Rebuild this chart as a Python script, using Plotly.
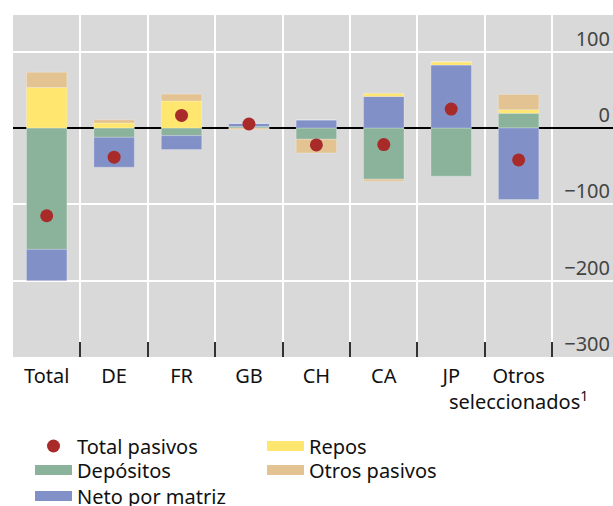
import plotly.graph_objects as go

categories = ["Total", "DE", "FR", "GB", "CH", "CA", "JP", "Otros<br>seleccionados<sup>1</sup>"]
depositos = [-159, -12.2, -10, 2, -14.8, -67.1, -63.2, 19.2]
neto_matriz = [-41, -39.2, -18.3, 4, 10.5, 41.4, 82.4, -93.7]
repos = [53, 6.5, 35.3, 0, 0, 3.9, 4.3, 4.8]
otros_pasivos = [20, 4.4, 9.1, -1.5, -17.9, -2.6, 0, 20]
total_pasivos = [-115, -38.3, 16.5, 5.2, -22.2, -21.8, 24.8, -41.8]
y_ticks = [-300, -200, -100, 0, 100]
y_ticktext = ["\u2212300", "\u2212200", "\u2212100", "0", "100"]

C_DEP = "#8bb29a"
C_NETO = "#8290c8"
C_REPOS = "#ffe66e"
C_OTROS = "#e3c391"
C_DOT = "#a82b2a"
FONT = "Noto Sans"
FS = 20

W, H = 613, 506
ML, MT, MB = 13, 15, 149
PH = H - MT - MB
PW = W - ML

def py(y_fig):
    return (H - MB - y_fig) / PH

def px(x_fig):
    return (x_fig - ML) / PW

fig = go.Figure()

series = [
    ("Depósitos", depositos, C_DEP, "legend3"),
    ("Neto por matriz", neto_matriz, C_NETO, "legend4"),
    ("Repos", repos, C_REPOS, "legend2"),
    ("Otros pasivos", otros_pasivos, C_OTROS, "legend5"),
]
for name, vals, col, _ in series:
    fig.add_trace(go.Bar(
        x=categories, y=vals, name=name, marker_color=col,
        marker_line=dict(color="rgba(255,255,255,0.25)", width=1),
        width=0.6, showlegend=False,
    ))

fig.add_trace(go.Scatter(
    x=categories, y=total_pasivos, mode="markers", name="Total pasivos",
    marker=dict(color=C_DOT, size=13), showlegend=True, legend="legend",
))
for name, vals, col, lg in series:
    fig.add_trace(go.Scatter(
        x=[None], y=[None], mode="lines", name=name,
        line=dict(color=col, width=15), showlegend=True, legend=lg,
    ))

def leg(x, y):
    return dict(
        x=x, y=y, xanchor="left", yanchor="middle",
        bgcolor="rgba(0,0,0,0)", font=dict(size=FS), itemwidth=37,
        tracegroupgap=0,
    )

col1_x = px(30)
col2_x = px(262)
row_y = [py(446), py(470), py(496)]

fig.update_layout(
    width=W, height=H,
    margin=dict(l=ML, r=0, t=MT, b=MB, autoexpand=False),
    paper_bgcolor="white",
    plot_bgcolor="#d9d9d9",
    barmode="relative",
    font=dict(family=FONT, size=FS, color="#111"),
    xaxis=dict(
        type="category", range=[-0.5, 8.4], tickson="boundaries",
        showgrid=True, gridcolor="white", gridwidth=1.5,
        ticks="inside", ticklen=15, tickwidth=1.5, tickcolor="#333",
        showline=False, zeroline=False, tickfont=dict(size=FS),
        tickangle=0, automargin=False, ticklabelstandoff=5,
    ),
    yaxis=dict(
        range=[-300, 148], side="right", tickvals=y_ticks,
        ticktext=y_ticktext,
        ticklabelposition="inside", ticklabelshift=-13,
        showgrid=True, gridcolor="white", gridwidth=1.5,
        zeroline=True, zerolinecolor="black", zerolinewidth=1.5,
        layer="above traces", ticks="", showline=False, automargin=False,
    ),
    legend=leg(col1_x, row_y[0]),
    legend3=leg(col1_x, row_y[1]),
    legend4=leg(col1_x, row_y[2]),
    legend2=leg(col2_x, row_y[0]),
    legend5=leg(col2_x, row_y[1]),
)

fig.write_html(
    "out.html",
    config={"displayModeBar": False},
    post_script="document.body.style.margin='0';document.body.style.overflow='hidden';",
)
